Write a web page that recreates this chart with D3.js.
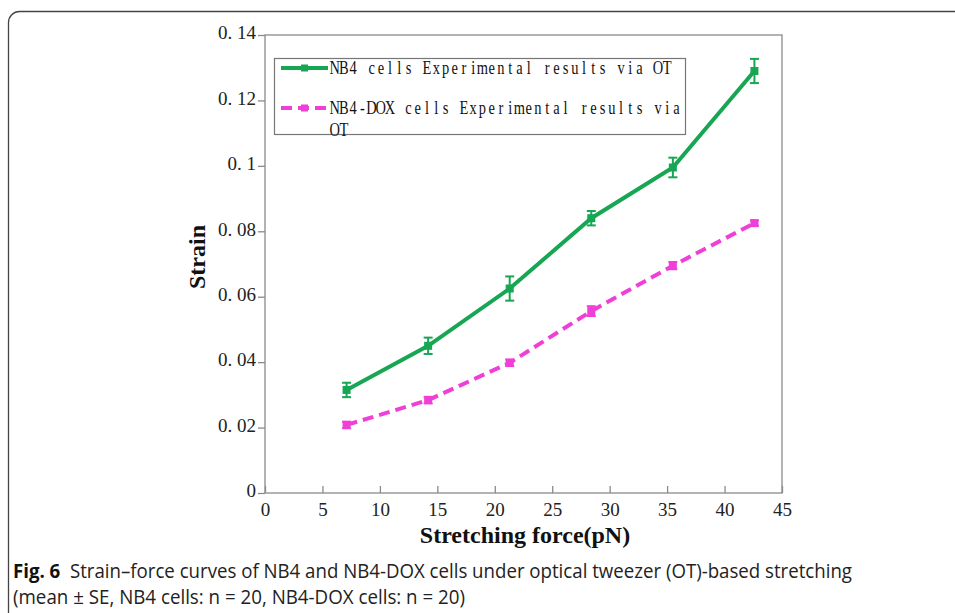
<!DOCTYPE html>
<html>
<head>
<meta charset="utf-8">
<script src="https://cdn.jsdelivr.net/npm/d3@7"></script>
<style>
  body { margin: 0; background: #fff; }
  svg { display: block; }
</style>
</head>
<body>
<div id="chart"></div>
<script>
// data
var force = [7.1, 14.2, 21.3, 28.4, 35.5, 42.6];
var nb4Strain = [0.0315, 0.045, 0.0625, 0.084, 0.0995, 0.129];
var nb4Err = [0.0022, 0.0025, 0.0037, 0.0022, 0.003, 0.0037];
var doxStrain = [0.0208, 0.0284, 0.0398, 0.0556, 0.0695, 0.0825];
var doxErr = [0.001, 0.001, 0.001, 0.0015, 0.0011, 0.0008];
var xTicks = [0, 5, 10, 15, 20, 25, 30, 35, 40, 45];
var yTicks = [0, 0.02, 0.04, 0.06, 0.08, 0.1, 0.12, 0.14];
var yTickText = ["0", "0. 02", "0. 04", "0. 06", "0. 08", "0. 1", "0. 12", "0. 14"];
var legendNames = ["NB4 cells Experimental results via OT", "NB4-DOX cells Experimental results via", "OT"];

var W = 955, H = 613;
var plot = { left: 265, right: 782, top: 35, bottom: 493 };
var green = "#17a653", pink = "#f03fd6";

var svg = d3.select("#chart").append("svg")
    .attr("width", W)
    .attr("height", H);

// outer figure box (rounded corner top-left, runs off page)
svg.append("rect")
    .attr("x", 8.5).attr("y", 11.5)
    .attr("width", 1000).attr("height", 700)
    .attr("rx", 11)
    .attr("fill", "none")
    .attr("stroke", "#444")
    .attr("stroke-width", 1.3);

var x = d3.scaleLinear().domain([0, 45]).range([plot.left, plot.right]);
var y = d3.scaleLinear().domain([0, 0.14]).range([plot.bottom, plot.top]);

// frame
svg.append("rect")
    .attr("x", plot.left).attr("y", plot.top)
    .attr("width", plot.right - plot.left)
    .attr("height", plot.bottom - plot.top)
    .attr("fill", "none")
    .attr("stroke", "#8a8a8a")
    .attr("stroke-width", 1.3);

var serif = "'Liberation Serif', 'DejaVu Serif', serif";

// y axis ticks (outside) and labels
var yAxis = svg.append("g")
    .attr("transform", "translate(" + plot.left + ",0)")
    .call(d3.axisLeft(y).tickValues(yTicks).tickSize(7).tickFormat(function (d, i) { return yTickText[i]; }));
yAxis.select(".domain").remove();
yAxis.selectAll("line").attr("stroke", "#8a8a8a").attr("stroke-width", 1.3);
yAxis.selectAll("text")
    .attr("x", -9)
    .attr("dy", "0.2em")
    .style("font-family", serif)
    .style("font-size", "19px")
    .attr("fill", "#222");

// x axis ticks (inside) and labels
var xAxis = svg.append("g")
    .attr("transform", "translate(0," + plot.bottom + ")")
    .call(d3.axisBottom(x).tickValues(xTicks).tickSize(-7));
xAxis.select(".domain").remove();
xAxis.selectAll("line").attr("stroke", "#8a8a8a").attr("stroke-width", 1.3);
xAxis.selectAll("text")
    .attr("y", 8)
    .attr("dy", "0.8em")
    .style("font-family", serif)
    .style("font-size", "19px")
    .attr("fill", "#222");

// axis titles
svg.append("text")
    .attr("x", 525)
    .attr("y", 543)
    .attr("text-anchor", "middle")
    .style("font-family", serif)
    .style("font-weight", "bold")
    .style("font-size", "24px")
    .attr("fill", "#111")
    .text("Stretching force(pN)");

svg.append("text")
    .attr("transform", "translate(205,257) rotate(-90)")
    .attr("text-anchor", "middle")
    .style("font-family", serif)
    .style("font-weight", "bold")
    .style("font-size", "24px")
    .attr("fill", "#111")
    .text("Strain");

// series
var series = [
    { name: "nb4", vals: nb4Strain, err: nb4Err, color: green, dash: null },
    { name: "dox", vals: doxStrain, err: doxErr, color: pink, dash: "11,6" }
];

var line = d3.line()
    .x(function (d) { return x(d.f); })
    .y(function (d) { return y(d.v); });

series.forEach(function (s) {
    var pts = force.map(function (f, i) { return { f: f, v: s.vals[i], e: s.err[i] }; });
    var g = svg.append("g").attr("class", "series-" + s.name);

    g.append("path")
        .datum(pts)
        .attr("d", line)
        .attr("fill", "none")
        .attr("stroke", s.color)
        .attr("stroke-width", 4)
        .attr("stroke-dasharray", s.dash);

    // error bars
    var eb = g.selectAll(".eb").data(pts).enter().append("g").attr("class", "eb");
    eb.append("line")
        .attr("x1", function (d) { return x(d.f); })
        .attr("x2", function (d) { return x(d.f); })
        .attr("y1", function (d) { return y(d.v - d.e); })
        .attr("y2", function (d) { return y(d.v + d.e); })
        .attr("stroke", s.color).attr("stroke-width", 2);
    [-1, 1].forEach(function (sign) {
        eb.append("line")
            .attr("x1", function (d) { return x(d.f) - 4.5; })
            .attr("x2", function (d) { return x(d.f) + 4.5; })
            .attr("y1", function (d) { return y(d.v + sign * d.e); })
            .attr("y2", function (d) { return y(d.v + sign * d.e); })
            .attr("stroke", s.color).attr("stroke-width", 2);
    });

    // markers
    g.selectAll(".mk").data(pts).enter().append("rect")
        .attr("class", "mk")
        .attr("x", function (d) { return x(d.f) - 4; })
        .attr("y", function (d) { return y(d.v) - 4; })
        .attr("width", 8).attr("height", 8)
        .attr("fill", s.color);
});

// legend
var legend = svg.append("g");
legend.append("rect")
    .attr("x", 274.5).attr("y", 58.5)
    .attr("width", 411).attr("height", 76)
    .attr("fill", "#fff")
    .attr("stroke", "#777")
    .attr("stroke-width", 1.2);

[{ y: 68, s: series[0] }, { y: 108, s: series[1] }].forEach(function (it) {
    legend.append("line")
        .attr("x1", 281).attr("x2", 328)
        .attr("y1", it.y).attr("y2", it.y)
        .attr("stroke", it.s.color)
        .attr("stroke-width", 4)
        .attr("stroke-dasharray", it.s.dash);
    legend.append("rect")
        .attr("x", 301).attr("y", it.y - 3.5)
        .attr("width", 7).attr("height", 7)
        .attr("fill", it.s.color);
});

// narrow serif glyphs placed on a fixed character grid (like the SimSun legend)
var cell = 9.24;
var rows = [
    { t: legendNames[0], y: 74 },
    { t: legendNames[1], y: 114 },
    { t: legendNames[2], y: 136 }
];
rows.forEach(function (r) {
    legend.append("g").selectAll("text")
        .data(r.t.split(""))
        .enter().append("text")
        .attr("transform", function (c, i) {
            return "translate(" + (330 + cell * (i + 0.5)) + "," + r.y + ") scale(0.78,1)";
        })
        .attr("text-anchor", "middle")
        .style("font-family", serif)
        .style("font-size", "18.5px")
        .attr("fill", "#111")
        .text(function (c) { return c; });
});

// caption
var capFont = "'Open Sans', 'Noto Sans', sans-serif";
var cap = svg.append("text")
    .attr("x", 13).attr("y", 578)
    .attr("textLength", 839)
    .attr("lengthAdjust", "spacingAndGlyphs")
    .style("font-family", capFont)
    .style("font-size", "20px")
    .attr("fill", "#222");
cap.append("tspan").style("font-weight", "bold").attr("fill", "#111").text("Fig. 6");
cap.append("tspan").text("\u00a0 Strain\u2013force curves of NB4 and NB4-DOX cells under optical tweezer (OT)-based stretching");

svg.append("text")
    .attr("x", 13).attr("y", 604)
    .attr("textLength", 452)
    .attr("lengthAdjust", "spacingAndGlyphs")
    .style("font-family", capFont)
    .style("font-size", "20px")
    .attr("fill", "#222")
    .text("(mean \u00b1 SE, NB4 cells: n = 20, NB4-DOX cells: n = 20)");
</script>
</body>
</html>
